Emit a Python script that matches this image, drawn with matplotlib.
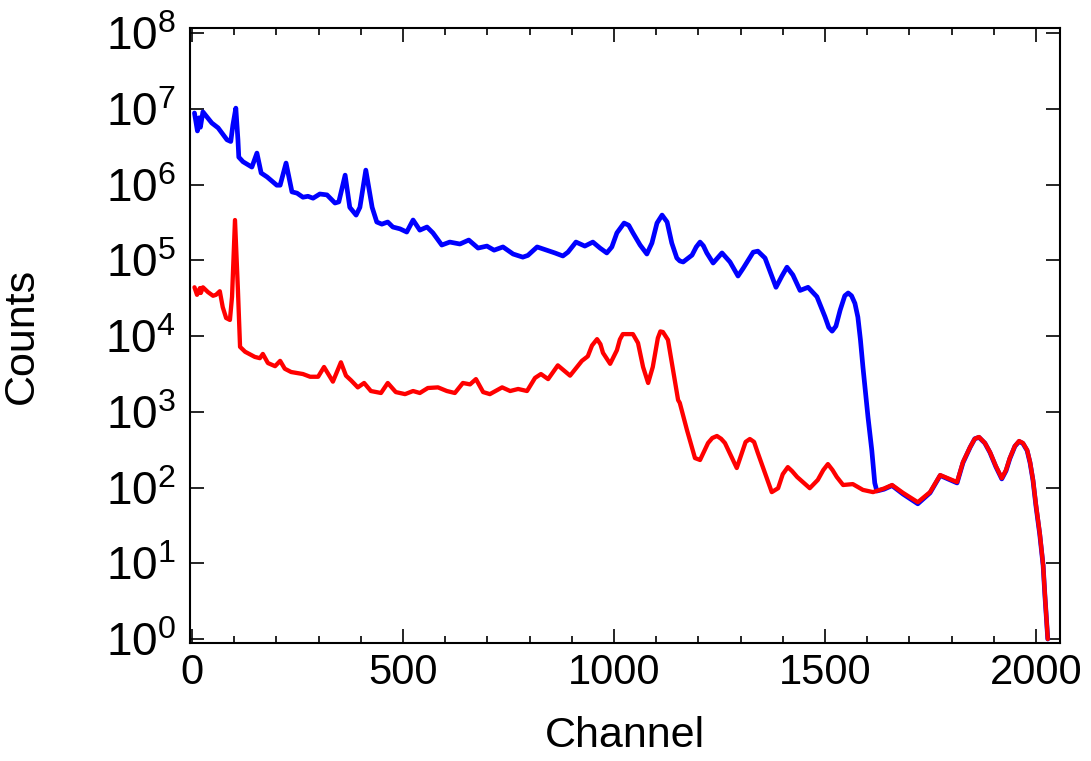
import matplotlib

matplotlib.use("Agg")

import matplotlib.pyplot as plt
from matplotlib.ticker import MultipleLocator, NullLocator, LogLocator

plt.rcParams["font.family"] = ["Liberation Sans", "DejaVu Sans"]
plt.rcParams["mathtext.fontset"] = "custom"
plt.rcParams["mathtext.rm"] = "Liberation Sans"

# upper spectrum (blue)
blue_ch = [6, 13, 17, 20, 26, 47, 62, 71, 83, 92, 97, 104, 109, 111, 121, 142,
           154, 164, 178, 201, 209, 223, 237, 249, 263, 275, 287, 303, 320, 339,
           348, 363, 374, 389, 398, 412, 427, 438, 450, 464, 476, 493, 509, 524,
           540, 557, 571, 592, 611, 635, 656, 678, 699, 716, 737, 761, 784, 796,
           818, 841, 860, 879, 891, 910, 931, 950, 967, 983, 995, 1007, 1024,
           1035, 1045, 1062, 1078, 1090, 1102, 1114, 1126, 1137, 1149, 1156,
           1164, 1185, 1195, 1204, 1212, 1220, 1235, 1256, 1275, 1294, 1306,
           1318, 1330, 1341, 1358, 1384, 1398, 1410, 1424, 1441, 1460, 1481,
           1500, 1509, 1517, 1526, 1536, 1547, 1555, 1563, 1571, 1578, 1584,
           1590, 1602, 1611, 1618, 1623, 1640, 1659, 1685, 1720, 1749, 1773,
           1813, 1827, 1844, 1855, 1865, 1879, 1891, 1905, 1919, 1929, 1938,
           1950, 1960, 1969, 1979, 1986, 1993, 2000, 2009, 2017, 2021, 2028]
blue_counts = [8.8e6, 5.1e6, 7.6e6, 5.7e6, 9.1e6, 6.5e6, 5.6e6, 4.8e6, 3.9e6,
               3.7e6, 6.1e6, 1.02e7, 3.9e6, 2.3e6, 2.0e6, 1.7e6, 2.6e6, 1.42e6,
               1.26e6, 9.8e5, 9.8e5, 1.92e6, 8.0e5, 7.7e5, 6.8e5, 7.0e5, 6.6e5,
               7.5e5, 7.3e5, 5.7e5, 5.9e5, 1.33e6, 5.0e5, 3.95e5, 5.0e5, 1.55e6,
               5.0e5, 3.2e5, 3.0e5, 3.2e5, 2.75e5, 2.6e5, 2.36e5, 3.4e5, 2.5e5,
               2.75e5, 2.3e5, 1.59e5, 1.74e5, 1.64e5, 1.85e5, 1.45e5, 1.54e5,
               1.36e5, 1.50e5, 1.21e5, 1.10e5, 1.16e5, 1.50e5, 1.36e5, 1.25e5,
               1.14e5, 1.28e5, 1.74e5, 1.54e5, 1.74e5, 1.45e5, 1.25e5, 1.50e5,
               2.3e5, 3.1e5, 2.9e5, 2.3e5, 1.59e5, 1.21e5, 1.69e5, 3.1e5, 3.95e5,
               3.2e5, 1.69e5, 1.07e5, 9.8e4, 9.5e4, 1.17e5, 1.5e5, 1.74e5, 1.55e5,
               1.25e5, 9.2e4, 1.25e5, 9.5e4, 6.2e4, 7.8e4, 1.0e5, 1.28e5, 1.32e5,
               1.07e5, 4.4e4, 6.2e4, 8.1e4, 6.4e4, 4.0e4, 4.4e4, 3.3e4, 1.8e4,
               1.3e4, 1.16e4, 1.35e4, 2.2e4, 3.4e4, 3.7e4, 3.4e4, 2.7e4, 1.78e4,
               9.0e3, 3.9e3, 850, 310, 115, 90, 95, 106, 82, 61, 85, 144, 115,
               212, 340, 440, 460, 385, 290, 188, 130, 166, 240, 350, 405, 383,
               308, 212, 124, 57, 24, 9.3, 3.9, 1.0]

# lower spectrum (red)
red_ch = [6, 12, 19, 21, 26, 38, 50, 57, 66, 73, 81, 90, 95, 102, 109, 114,
          126, 149, 161, 168, 180, 197, 209, 220, 235, 263, 280, 299, 313, 334,
          353, 365, 377, 393, 408, 424, 448, 464, 483, 505, 524, 540, 559, 583,
          604, 623, 642, 659, 673, 690, 706, 735, 754, 773, 794, 813, 827, 844,
          867, 896, 924, 938, 948, 960, 968, 974, 991, 1007, 1014, 1021, 1045,
          1057, 1069, 1081, 1092, 1104, 1110, 1116, 1128, 1140, 1152, 1156,
          1173, 1192, 1204, 1223, 1233, 1244, 1254, 1263, 1291, 1312, 1322,
          1332, 1341, 1374, 1389, 1400, 1412, 1422, 1434, 1464, 1483, 1496,
          1507, 1518, 1528, 1543, 1566, 1590, 1614, 1640, 1659, 1685, 1720,
          1749, 1773, 1813, 1827, 1844, 1855, 1865, 1879, 1891, 1905, 1919,
          1929, 1938, 1950, 1960, 1969, 1979, 1986, 1993, 2000, 2009, 2017,
          2021, 2028]
red_counts = [4.4e4, 3.5e4, 4.3e4, 3.7e4, 4.4e4, 3.8e4, 3.4e4, 3.5e4, 3.9e4,
              2.4e4, 1.73e4, 1.63e4, 3.3e4, 3.4e5, 4.0e4, 7.2e3, 6.2e3, 5.3e3,
              5.1e3, 5.8e3, 4.4e3, 4.0e3, 4.7e3, 3.7e3, 3.35e3, 3.15e3, 2.9e3,
              2.9e3, 3.9e3, 2.5e3, 4.5e3, 3.0e3, 2.6e3, 2.1e3, 2.4e3, 1.88e3,
              1.77e3, 2.4e3, 1.82e3, 1.71e3, 1.88e3, 1.77e3, 2.06e3, 2.1e3,
              1.88e3, 1.77e3, 2.4e3, 2.3e3, 2.7e3, 1.82e3, 1.71e3, 2.1e3,
              1.88e3, 2.0e3, 1.88e3, 2.8e3, 3.15e3, 2.7e3, 4.1e3, 3.0e3, 4.7e3,
              5.4e3, 7.5e3, 9.1e3, 7.8e3, 6.0e3, 4.3e3, 6.5e3, 9.0e3, 1.06e4,
              1.06e4, 8.1e3, 3.9e3, 2.4e3, 3.9e3, 9.4e3, 1.15e4, 1.13e4, 8.9e3,
              3.6e3, 1.43e3, 1.31e3, 574, 245, 231, 387, 450, 479, 440, 387, 181,
              400, 437, 400, 285, 87, 98, 150, 186, 165, 138, 98, 126, 170, 204,
              170, 138, 108, 111, 93, 87, 97, 108, 85, 64, 87, 146, 118, 217,
              343, 440, 465, 387, 294, 192, 133, 170, 245, 353, 411, 387, 313,
              217, 126, 59, 25, 9.5, 4.0, 1.0]

fig = plt.figure(figsize=(10.91, 7.61), dpi=100)
ax = fig.add_axes([0.174, 0.155, 0.7976, 0.808])

ax.plot(blue_ch, blue_counts, color="#0000ff", linewidth=3.4,
        solid_joinstyle="round", solid_capstyle="round")
ax.plot(red_ch, red_counts, color="#ff0000", linewidth=3.1,
        solid_joinstyle="round", solid_capstyle="round")

ax.set_yscale("log")
ax.set_xlim(-5, 2057)
ax.set_ylim(0.885, 1.16e8)

ax.xaxis.set_major_locator(MultipleLocator(500))
ax.xaxis.set_minor_locator(MultipleLocator(100))
ax.yaxis.set_major_locator(LogLocator(base=10, numticks=12))
ax.yaxis.set_minor_locator(NullLocator())

ax.tick_params(which="both", direction="in", top=True, right=True,
               width=1.2, pad=7)
ax.tick_params(axis="x", labelsize=30)
ax.tick_params(axis="y", labelsize=33, pad=10)
ax.tick_params(which="major", length=10)
ax.tick_params(which="minor", length=5)
for sp in ax.spines.values():
    sp.set_linewidth(1.5)

ax.set_xlabel("Channel", fontsize=31, labelpad=17)
ax.set_ylabel("Counts", fontsize=31, labelpad=46)

fig.savefig("out.png", dpi=100)
